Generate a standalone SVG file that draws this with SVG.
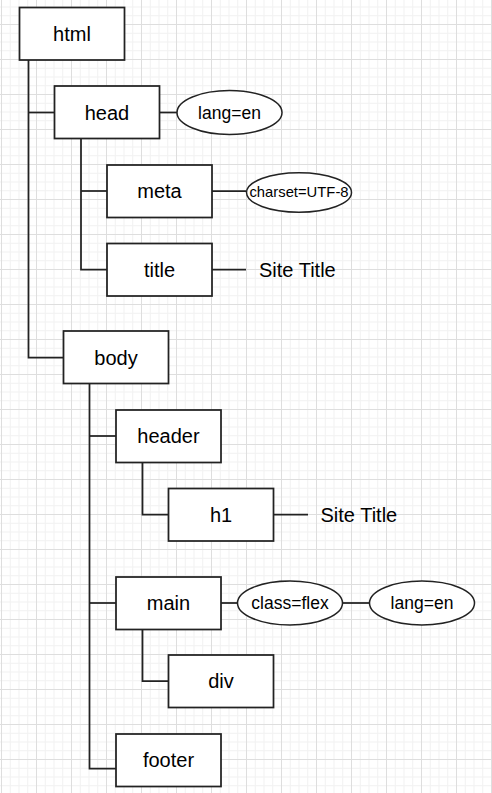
<svg xmlns="http://www.w3.org/2000/svg" width="492" height="793" viewBox="0 0 492 793">
<defs>
<pattern id="grid" patternUnits="userSpaceOnUse" x="1" y="24" width="35" height="35">
<rect x="8.75" y="0" width="1" height="35" fill="#f1f1f1"/>
<rect x="17.5" y="0" width="1" height="35" fill="#f1f1f1"/>
<rect x="26.25" y="0" width="1" height="35" fill="#f1f1f1"/>
<rect x="0" y="8.75" width="35" height="1" fill="#f1f1f1"/>
<rect x="0" y="17.5" width="35" height="1" fill="#f1f1f1"/>
<rect x="0" y="26.25" width="35" height="1" fill="#f1f1f1"/>
<rect x="0" y="0" width="1" height="35" fill="#dedede"/>
<rect x="0" y="0" width="35" height="1" fill="#dedede"/>
</pattern>
<style>
.box{fill:#ffffff;stroke:#222222;stroke-width:1.75}
.ell{fill:#ffffff;stroke:#222222;stroke-width:1.5}
.ln{fill:none;stroke:#222222;stroke-width:1.75}
.t{font-family:"Liberation Sans",Arial,sans-serif;font-size:20px;fill:#000000;text-anchor:middle;dominant-baseline:central}
.a{font-family:"Liberation Sans",Arial,sans-serif;font-size:17.5px;fill:#000000;text-anchor:middle;dominant-baseline:central}
.s{font-family:"Liberation Sans",Arial,sans-serif;font-size:20px;fill:#000000;dominant-baseline:central}
</style>
</defs>
<rect x="0" y="0" width="492" height="793" fill="#ffffff"/>
<rect x="0" y="0" width="492" height="793" fill="url(#grid)"/>
<g id="connectors">
<path class="ln" d="M28.5 60 V357.5 H63.5"/>
<path class="ln" d="M28.5 112.5 H54.5"/>
<path class="ln" d="M159.5 112.5 H177"/>
<path class="ln" d="M81 138.5 V269.5 H107"/>
<path class="ln" d="M81 191 H107"/>
<path class="ln" d="M212 191 H246.5"/>
<path class="ln" d="M212 269.5 H246"/>
<path class="ln" d="M89.5 383.5 V768.5 H116"/>
<path class="ln" d="M89.5 436 H116"/>
<path class="ln" d="M89.5 603 H116"/>
<path class="ln" d="M142.5 462.5 V514.5 H168.5"/>
<path class="ln" d="M273.5 514.5 H308"/>
<path class="ln" d="M221 603 H237.5"/>
<path class="ln" d="M342.5 603 H369.5"/>
<path class="ln" d="M142.5 629.5 V681 H168.5"/>
</g>
<g id="node-html"><rect class="box" x="19.5" y="7.5" width="105" height="52.5"/><text class="t" x="72" y="34">html</text></g>
<g id="node-head"><rect class="box" x="54.5" y="86" width="105" height="52.5"/><text class="t" x="107" y="112.5">head</text></g>
<g id="node-head-lang"><ellipse class="ell" cx="229.5" cy="112.5" rx="52.5" ry="22"/><text class="a" x="229.5" y="112.5">lang=en</text></g>
<g id="node-meta"><rect class="box" x="107" y="165" width="105" height="52.5"/><text class="t" x="159.5" y="191">meta</text></g>
<g id="node-charset"><ellipse class="ell" cx="299" cy="192.5" rx="52.5" ry="19.7"/><text class="a" x="299" y="192" style="font-size:14.8px">charset=UTF-8</text></g>
<g id="node-title"><rect class="box" x="107" y="243.5" width="105" height="52.5"/><text class="t" x="159.5" y="269.5">title</text></g>
<g id="node-title-text"><text class="s" x="259" y="269.5">Site Title</text></g>
<g id="node-body"><rect class="box" x="63.5" y="331" width="105" height="52.5"/><text class="t" x="116" y="357.5">body</text></g>
<g id="node-header"><rect class="box" x="116" y="410" width="105" height="52.5"/><text class="t" x="168.5" y="436">header</text></g>
<g id="node-h1"><rect class="box" x="168.5" y="488.5" width="105" height="52.5"/><text class="t" x="221" y="514.5">h1</text></g>
<g id="node-h1-text"><text class="s" x="320.5" y="514.5">Site Title</text></g>
<g id="node-main"><rect class="box" x="116" y="577" width="105" height="52.5"/><text class="t" x="168.5" y="603">main</text></g>
<g id="node-class"><ellipse class="ell" cx="290" cy="603" rx="52.5" ry="22"/><text class="a" x="290" y="603">class=flex</text></g>
<g id="node-main-lang"><ellipse class="ell" cx="422" cy="603" rx="52.5" ry="22"/><text class="a" x="422" y="603">lang=en</text></g>
<g id="node-div"><rect class="box" x="168.5" y="655" width="105" height="52.5"/><text class="t" x="221" y="681">div</text></g>
<g id="node-footer"><rect class="box" x="116" y="734" width="105" height="52.5"/><text class="t" x="168.5" y="760">footer</text></g>
</svg>
